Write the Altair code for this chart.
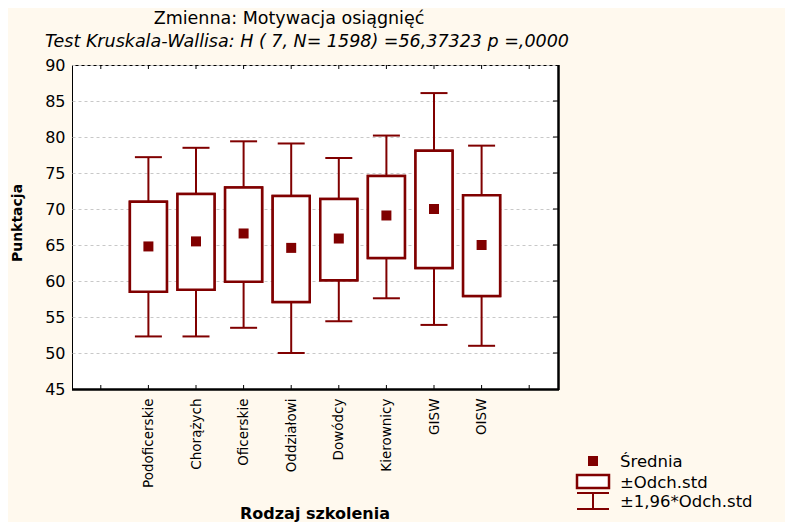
import json
import altair as alt
import pandas as pd

# ---- data ----
categories = ["Podoficerskie", "Chorążych", "Oficerskie", "Oddziałowi",
              "Dowódcy", "Kierownicy", "GISW", "OISW"]
means = [64.8, 65.5, 66.6, 64.6, 65.9, 69.1, 70.0, 65.0]
sd_lo = [58.5, 58.8, 59.9, 57.1, 60.1, 63.2, 61.8, 57.9]
sd_hi = [71.0, 72.1, 73.0, 71.8, 71.4, 74.6, 78.1, 71.9]
ci_lo = [52.3, 52.3, 53.5, 50.0, 54.4, 57.6, 53.9, 51.0]
ci_hi = [77.2, 78.5, 79.4, 79.1, 77.1, 80.2, 86.1, 78.8]

y_ticks = [45, 50, 55, 60, 65, 70, 75, 80, 85, 90]
title_text = "Zmienna: Motywacja osiągnięć"
subtitle_text = "Test Kruskala-Wallisa: H ( 7, N= 1598) =56,37323 p =,0000"
x_title = "Rodzaj  szkolenia"
y_title = "Punktacja"
legend_labels = ["Średnia", "±Odch.std", "±1,96*Odch.std"]

W, H = 486, 324
RED = "#800000"
FONT = "DejaVu Sans"

df = pd.DataFrame({
    "pos": list(range(1, len(categories) + 1)),
    "cat": categories,
    "mean": means,
    "sd_lo": sd_lo,
    "sd_hi": sd_hi,
    "ci_lo": ci_lo,
    "ci_hi": ci_hi,
})

xscale = alt.Scale(domain=[-0.5, len(categories) + 1.5], nice=False, zero=False)
yscale = alt.Scale(domain=[45, 90], nice=False, zero=False)

label_expr = "datum.value >= 1 && datum.value <= %d ? %s[datum.value - 1] : ''" % (
    len(categories), json.dumps(categories, ensure_ascii=False))

xaxis = alt.Axis(values=list(range(1, len(categories) + 1)), labelExpr=label_expr,
                 labelAngle=-90, labelFontSize=13.5, labelFont=FONT, labelColor="black",
                 labelPadding=9, labelOverlap=False, ticks=False, domain=False,
                 grid=False, title=None)
yaxis = alt.Axis(values=y_ticks, tickCount=len(y_ticks), labelFontSize=16, labelFont=FONT,
                 labelColor="black", labelPadding=7, labelOverlap=False, labelFlush=False,
                 labelBound=False, ticks=False, domain=False, grid=True,
                 gridColor="#c8c8c8", gridDash=[3, 3], gridWidth=1, title=None)


def X(field):
    return alt.X(field, type="quantitative", scale=xscale, axis=xaxis)


def Y(field):
    return alt.Y(field, type="quantitative", scale=yscale, axis=yaxis)


base = alt.Chart(df)

boxes = base.mark_bar(size=37, fill="white", stroke=RED, strokeWidth=2.5).encode(
    x=X("pos"), y=Y("sd_lo"), y2="sd_hi:Q")
wh_low = base.mark_rule(color=RED, strokeWidth=2).encode(
    x=X("pos"), y=Y("ci_lo"), y2="sd_lo:Q")
wh_high = base.mark_rule(color=RED, strokeWidth=2).encode(
    x=X("pos"), y=Y("sd_hi"), y2="ci_hi:Q")
cap_low = base.mark_tick(orient="horizontal", size=27, thickness=2, color=RED, opacity=1).encode(
    x=X("pos"), y=Y("ci_lo"))
cap_high = base.mark_tick(orient="horizontal", size=27, thickness=2, color=RED, opacity=1).encode(
    x=X("pos"), y=Y("ci_hi"))
mean_pts = base.mark_square(size=100, color=RED, opacity=1, filled=True).encode(
    x=X("pos"), y=Y("mean"))

# frame ticks (inside the plot)
xt = alt.Chart(pd.DataFrame({"p": list(range(0, len(categories) + 2))}))
top_ticks = xt.mark_rule(color="black", strokeWidth=1).encode(
    x=X("p"), y=alt.value(0), y2=alt.value(4))
bot_ticks = xt.mark_rule(color="black", strokeWidth=1).encode(
    x=X("p"), y=alt.value(H), y2=alt.value(H - 4))
yt = alt.Chart(pd.DataFrame({"v": y_ticks[1:-1]}))
right_ticks = yt.mark_rule(color="black", strokeWidth=1).encode(
    y=Y("v"), x=alt.value(W), x2=alt.value(W - 5))

right_border = alt.Chart(pd.DataFrame({"a": [0]})).mark_rule(color="black", strokeWidth=2.5).encode(
    x=alt.value(W + 0.5), y=alt.value(0), y2=alt.value(H + 1))
bottom_border = alt.Chart(pd.DataFrame({"a": [0]})).mark_rule(color="black", strokeWidth=2.5).encode(
    y=alt.value(H + 0.5), x=alt.value(0), x2=alt.value(W + 1))


def text_layer(txt, x, y, size, weight="normal", style="normal", align="center", angle=0):
    return alt.Chart(alt.Data(values=[{"t": txt}])).mark_text(
        font=FONT, fontSize=size, fontWeight=weight, fontStyle=style,
        align=align, baseline="middle", angle=angle, color="black").encode(
        text="t:N", x=alt.value(x), y=alt.value(y))


title_l = text_layer(title_text, 217, -46, 17.5)
subtitle_l = text_layer(subtitle_text, 235, -23, 17.5, style="italic")
xtitle_l = text_layer(x_title, 243, 449, 16, weight="bold")
ytitle_l = text_layer(y_title, -54, 158, 14, weight="bold", angle=270)

# custom legend
lx = 521
one = alt.Data(values=[{"a": 0}])
leg_sq = alt.Chart(one).mark_square(size=100, color=RED, opacity=1).encode(
    x=alt.value(lx), y=alt.value(396))
leg_box = alt.Chart(one).mark_rect(fill="white", stroke=RED, strokeWidth=2.5).encode(
    x=alt.value(lx - 16), x2=alt.value(lx + 16), y=alt.value(410), y2=alt.value(423))
leg_cap1 = alt.Chart(one).mark_rule(color=RED, strokeWidth=2).encode(
    x=alt.value(lx - 16), x2=alt.value(lx + 16), y=alt.value(428))
leg_cap2 = alt.Chart(one).mark_rule(color=RED, strokeWidth=2).encode(
    x=alt.value(lx - 16), x2=alt.value(lx + 16), y=alt.value(444))
leg_stem = alt.Chart(one).mark_rule(color=RED, strokeWidth=2).encode(
    x=alt.value(lx), y=alt.value(428), y2=alt.value(444))
leg_t = [text_layer(lbl, 548, yy, 16.5, align="left")
         for lbl, yy in zip(legend_labels, [397, 418, 437])]

chart = alt.layer(
    boxes, wh_low, wh_high, cap_low, cap_high, boxes, mean_pts,
    top_ticks, bot_ticks, right_ticks, right_border, bottom_border,
    title_l, subtitle_l, xtitle_l, ytitle_l,
    leg_sq, leg_box, leg_cap1, leg_cap2, leg_stem, *leg_t,
).properties(
    width=W, height=H,
    autosize=alt.AutoSizeParams(type="none"),
    padding={"left": 64, "top": 57, "right": 227, "bottom": 133},
).configure(
    background="#FFF9EE",
).configure_view(
    fill="white", stroke="black", strokeWidth=1,
)

chart.save("out.html", embed_options={"renderer": "svg", "actions": False})
